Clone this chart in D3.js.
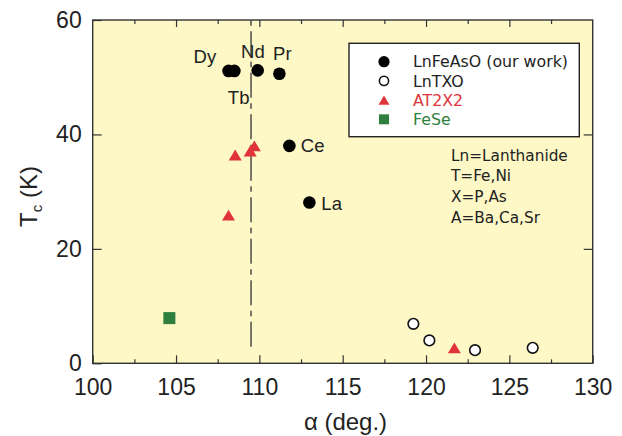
<!DOCTYPE html>
<html><head><meta charset="utf-8">
<script src="https://cdn.jsdelivr.net/npm/d3@7"></script>
<style>html,body{margin:0;padding:0;background:#fff;}svg{display:block;}</style>
</head><body>
<svg id="c" width="622" height="436"></svg>
<script>
// ---- data ----
const lnFeAsONames = ["Dy","Tb","Nd","Pr","Ce","La"];
const lnFeAsOAlpha = [108.15,108.5,109.9,111.2,111.8,113.0];
const lnFeAsOTc    = [51.1,51.1,51.2,50.6,38.0,28.1];
const lnTXOAlpha = [119.24,120.2,122.94,126.4];
const lnTXOTc    = [6.9,4.0,2.3,2.7];
const at2x2Alpha = [108.55,109.45,109.7,108.15,121.7];
const at2x2Tc    = [36.4,37.1,38.0,25.9,2.7];
const feSeAlpha = [104.6];
const feSeTc    = [7.9];
const tetraAngle = 109.5;
const tetraRange = [2.9, 60];
const xTicks = [100,105,110,115,120,125,130];
const xMinor = [102.5,107.5,112.5,117.5,122.5,127.5];
const yTicks = [0,20,40,60];
const legendLabels = ["LnFeAsO (our work)","LnTXO","AT2X2","FeSe"];
const noteLines = ["Ln=Lanthanide","T=Fe,Ni","X=P,As","A=Ba,Ca,Sr"];

// ---- layout / style ----
const svg = d3.select("#c");
const L=92.7, R=592.7, T=20, B=363.3;
const x = d3.scaleLinear().domain([100,130]).range([L,R]);
const y = d3.scaleLinear().domain([0,60]).range([B,T]);
const axisCol="#333", txt="#222", red="#e0333a", green="#2f7f3e";
const axFont='"Liberation Sans", Arial, Helvetica, sans-serif';
const legFont='"DejaVu Sans", Verdana, sans-serif';

svg.append("rect").attr("x",L).attr("y",T).attr("width",R-L).attr("height",B-T).attr("fill","#fdf8c6");

// axes with inward ticks
const gx=svg.append("g").attr("transform",`translate(0,${B})`)
  .call(d3.axisBottom(x).tickValues(xTicks).tickSize(-8).tickPadding(17).tickFormat(d3.format("d")));
const gxm=svg.append("g").attr("transform",`translate(0,${B})`)
  .call(d3.axisBottom(x).tickValues(xMinor).tickSize(-4).tickFormat(""));
const gxt=svg.append("g").attr("transform",`translate(0,${T})`)
  .call(d3.axisTop(x).tickValues(xTicks.slice(1,-1)).tickSize(-7).tickFormat(""));
const gxtm=svg.append("g").attr("transform",`translate(0,${T})`)
  .call(d3.axisTop(x).tickValues(xMinor).tickSize(-4).tickFormat(""));
const gy=svg.append("g").attr("transform",`translate(${L},0)`)
  .call(d3.axisLeft(y).tickValues(yTicks).tickSize(-9).tickPadding(11).tickFormat(d3.format("d")));
const gyr=svg.append("g").attr("transform",`translate(${R},0)`)
  .call(d3.axisRight(y).tickValues(yTicks.slice(1,-1)).tickSize(-9).tickFormat(""));
[gx,gxm,gxt,gxtm,gy,gyr].forEach(g=>{
  g.select(".domain").remove();
  g.selectAll("line").attr("stroke",axisCol).attr("stroke-width",1.2);
  g.selectAll("text").attr("fill",txt).style("font-family",axFont).style("font-size","23px");
});
gx.selectAll("text").attr("dy","0.71em").attr("y",15);
svg.append("rect").attr("x",L).attr("y",T).attr("width",R-L).attr("height",B-T)
  .attr("fill","none").attr("stroke",axisCol).attr("stroke-width",1.4);

// axis titles
const yt=svg.append("text").attr("transform","translate(37,196.5) rotate(-90)")
  .attr("text-anchor","middle").attr("fill",txt).style("font-family",axFont).style("font-size","24px");
yt.append("tspan").text("T");
yt.append("tspan").text("c").style("font-size","15px").attr("dy",5);
yt.append("tspan").text(" (K)").attr("dy",-5);
svg.append("text").attr("x",345.5).attr("y",430).attr("text-anchor","middle").attr("fill",txt)
  .style("font-family",axFont).style("font-size","24px").text("α (deg.)");

// tetrahedral dash-dot line (drawn bottom to top)
svg.append("line").attr("x1",x(tetraAngle)).attr("x2",x(tetraAngle))
  .attr("y1",y(tetraRange[0])).attr("y2",y(tetraRange[1]))
  .attr("stroke","#333").attr("stroke-width",1.3).attr("stroke-dasharray","25,5.5,5.5,5.5");

// markers
const tri = (s)=>`M0,${-s*0.42}L${s/2},${s*0.42}L${-s/2},${s*0.42}Z`;
svg.append("g").selectAll("path").data(d3.zip(at2x2Alpha,at2x2Tc)).join("path")
  .attr("d",tri(13)).attr("fill",red)
  .attr("transform",d=>`translate(${x(d[0])},${y(d[1])})`);
svg.append("g").selectAll("rect").data(d3.zip(feSeAlpha,feSeTc)).join("rect")
  .attr("x",d=>x(d[0])-6).attr("y",d=>y(d[1])-6).attr("width",12).attr("height",12).attr("fill",green);
svg.append("g").selectAll("circle").data(d3.zip(lnTXOAlpha,lnTXOTc)).join("circle")
  .attr("cx",d=>x(d[0])).attr("cy",d=>y(d[1])).attr("r",5.3)
  .attr("fill","#fff").attr("stroke","#111").attr("stroke-width",1.6);
svg.append("g").selectAll("circle").data(d3.zip(lnFeAsOAlpha,lnFeAsOTc)).join("circle")
  .attr("cx",d=>x(d[0])).attr("cy",d=>y(d[1])).attr("r",6.3).attr("fill","#000");

// point labels (pixel offsets from their point)
const labelOffsets = {Dy:[-35,-8],Tb:[-6.5,32.6],Nd:[-16.6,-12.6],Pr:[-6.3,-13.3],Ce:[11.4,6],La:[12,7.3]};
svg.append("g").selectAll("text").data(d3.zip(lnFeAsONames,lnFeAsOAlpha,lnFeAsOTc)).join("text")
  .attr("x",d=>x(d[1])+labelOffsets[d[0]][0]).attr("y",d=>y(d[2])+labelOffsets[d[0]][1])
  .attr("fill",txt).style("font-family",axFont).style("font-size","18.5px").text(d=>d[0]);

// legend
const lg=svg.append("g");
lg.append("rect").attr("x",349).attr("y",43.3).attr("width",230.3).attr("height",93.4)
  .attr("fill","#fff").attr("stroke","#222").attr("stroke-width",1.4);
const rowY=i=>61.7+i*19.2;
const legColors=["#222","#222",red,green];
lg.append("circle").attr("cx",384).attr("cy",rowY(0)).attr("r",5.6).attr("fill","#000");
lg.append("circle").attr("cx",384).attr("cy",rowY(1)).attr("r",4.6).attr("fill","#fff").attr("stroke","#111").attr("stroke-width",1.6);
lg.append("path").attr("d",tri(11)).attr("fill",red).attr("transform",`translate(384,${rowY(2)})`);
lg.append("rect").attr("x",379).attr("y",rowY(3)-5).attr("width",10).attr("height",10).attr("fill",green);
lg.selectAll("text.l").data(legendLabels).join("text").attr("class","l")
  .attr("x",413).attr("y",(d,i)=>rowY(i)).attr("dy","0.36em")
  .attr("fill",(d,i)=>legColors[i]).style("font-family",legFont).style("font-size","15.8px").text(d=>d);

// note
svg.append("g").selectAll("text").data(noteLines).join("text")
  .attr("x",451).attr("y",(d,i)=>155+i*20.7).attr("dy","0.36em")
  .attr("fill",txt).style("font-family",legFont).style("font-size","15.3px").text(d=>d);
</script>
</body></html>
